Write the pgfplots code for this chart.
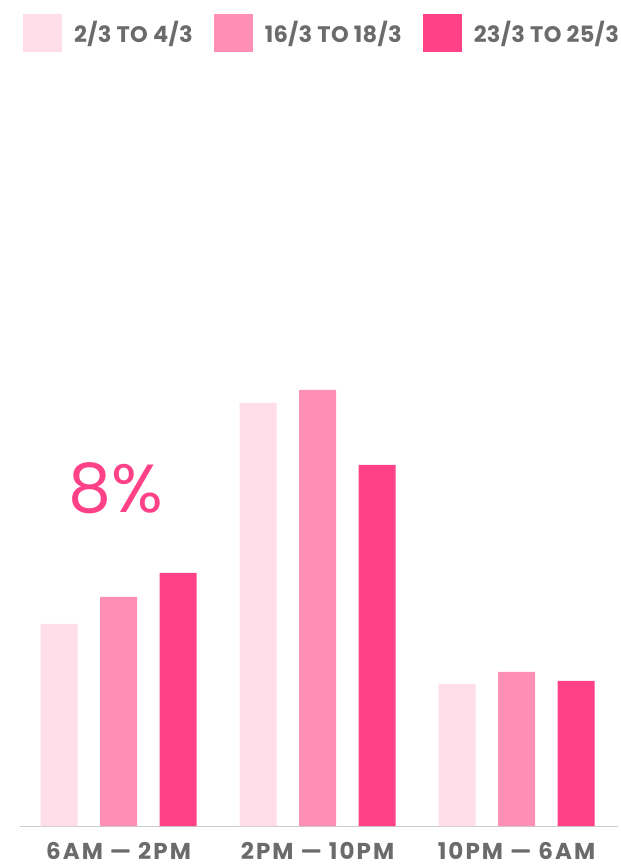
\documentclass[border=0pt]{standalone}
\usepackage{pgfplots}
\pgfplotsset{compat=1.18}
\usepackage{fontspec}
\setmainfont{Poppins}
\definecolor{pinkA}{HTML}{FFDEEA}
\definecolor{pinkB}{HTML}{FF8FB4}
\definecolor{pinkC}{HTML}{FF4288}
\definecolor{txtgray}{HTML}{6B6B6B}
\definecolor{axgray}{HTML}{CCCCCC}
\begin{document}
\begin{tikzpicture}
\path[use as bounding box] (0,0) rectangle (621pt,868pt);
\begin{axis}[
  at={(20pt,42pt)}, anchor=south west,
  scale only axis, width=598pt, height=766pt,
  xmin=-0.495, xmax=2.51, ymin=0, ymax=766,
  ybar, bar width=37pt,
  axis y line=none,
  axis x line*=bottom,
  x axis line style={axgray, line width=1pt, -},
  xtick={0,1,2}, xticklabels={6AM — 2PM, 2PM — 10PM, 10PM — 6AM},
  major tick length=0pt,
  xticklabel style={font=\fontsize{23}{26}\selectfont\bfseries\addfontfeatures{LetterSpace=9}, text=txtgray, inner ysep=0pt, text depth=0pt, text height=16pt, yshift=-17pt},
  legend columns=3,
  legend image code/.code={\fill[#1] (0pt,-19pt) rectangle (39pt,19pt);},
  legend style={draw=none, fill=none, at={(0,1)}, anchor=south west, xshift=3pt, yshift=8pt,
    font=\fontsize{22.5}{26}\selectfont\bfseries\addfontfeatures{LetterSpace=1.5}, text=txtgray, inner sep=0pt,
    /tikz/every odd column/.append style={column sep=10pt},
    /tikz/every even column/.append style={column sep=19pt}},
  clip=false,
]
\addplot[fill=pinkA, draw=none, bar shift=-59.5pt] coordinates {(0,202) (1,423) (2,142)};
\addplot[fill=pinkB, draw=none, bar shift=0pt] coordinates {(0,229) (1,436) (2,154)};
\addplot[fill=pinkC, draw=none, bar shift=59.5pt] coordinates {(0,253) (1,361) (2,145)};
\legend{2/3 TO 4/3, 16/3 TO 18/3, 23/3 TO 25/3}
\node[text=pinkC, font=\fontsize{68}{70}\selectfont] at (axis cs:-0.015,338) {8\%};
\end{axis}
\end{tikzpicture}
\end{document}
